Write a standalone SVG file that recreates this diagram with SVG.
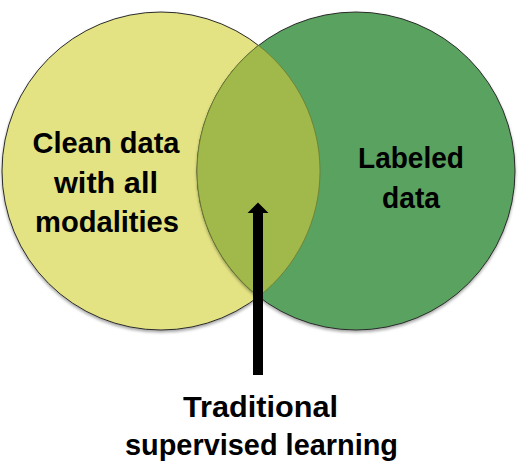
<svg xmlns="http://www.w3.org/2000/svg" width="521" height="467" viewBox="0 0 521 467">
  <defs>
    <filter id="shadow" x="-10%" y="-10%" width="120%" height="125%">
      <feDropShadow dx="0" dy="2" stdDeviation="1.5" flood-color="#000" flood-opacity="0.35"/>
    </filter>
  </defs>
  <style>
    .set { stroke: #2b2b2b; stroke-width: 1; }
    .lbl { font-family: "Liberation Sans", Arial, sans-serif; font-weight: bold; font-size: 30px; fill: #000; text-anchor: middle; }
  </style>
  <rect width="521" height="467" fill="#ffffff"/>
  <g id="clean-data">
    <circle class="set" cx="161" cy="171" r="159" fill="#e3e383" filter="url(#shadow)"/>
  </g>
  <g id="labeled-data">
    <circle class="set" cx="356" cy="171" r="159" fill="#5aa25f" filter="url(#shadow)"/>
  </g>
  <g id="intersection">
    <path d="M258.5,45.4 A159,159 0 0 1 258.5,296.6 A159,159 0 0 1 258.5,45.4 Z" fill="#a0b94a" stroke="#6b7a30" stroke-width="0.8"/>
  </g>
  <g id="labels-sets">
    <text class="lbl" x="106" y="153" textLength="147" lengthAdjust="spacingAndGlyphs">Clean data</text>
    <text class="lbl" x="106" y="193" textLength="104" lengthAdjust="spacingAndGlyphs">with all</text>
    <text class="lbl" x="107" y="232" textLength="144" lengthAdjust="spacingAndGlyphs">modalities</text>
    <text class="lbl" x="411" y="168" textLength="106" lengthAdjust="spacingAndGlyphs">Labeled</text>
    <text class="lbl" x="411" y="208" textLength="58" lengthAdjust="spacingAndGlyphs">data</text>
  </g>
  <g id="connectors">
    <path d="M253,375 L253,213 L247.5,213 L258,202.5 L268.5,213 L263,213 L263,375 Z" fill="#000"/>
  </g>
  <g id="traditional-label">
    <text class="lbl" x="260.5" y="417" textLength="155" lengthAdjust="spacingAndGlyphs">Traditional</text>
    <text class="lbl" x="261.5" y="455" textLength="273" lengthAdjust="spacingAndGlyphs">supervised learning</text>
  </g>
</svg>
